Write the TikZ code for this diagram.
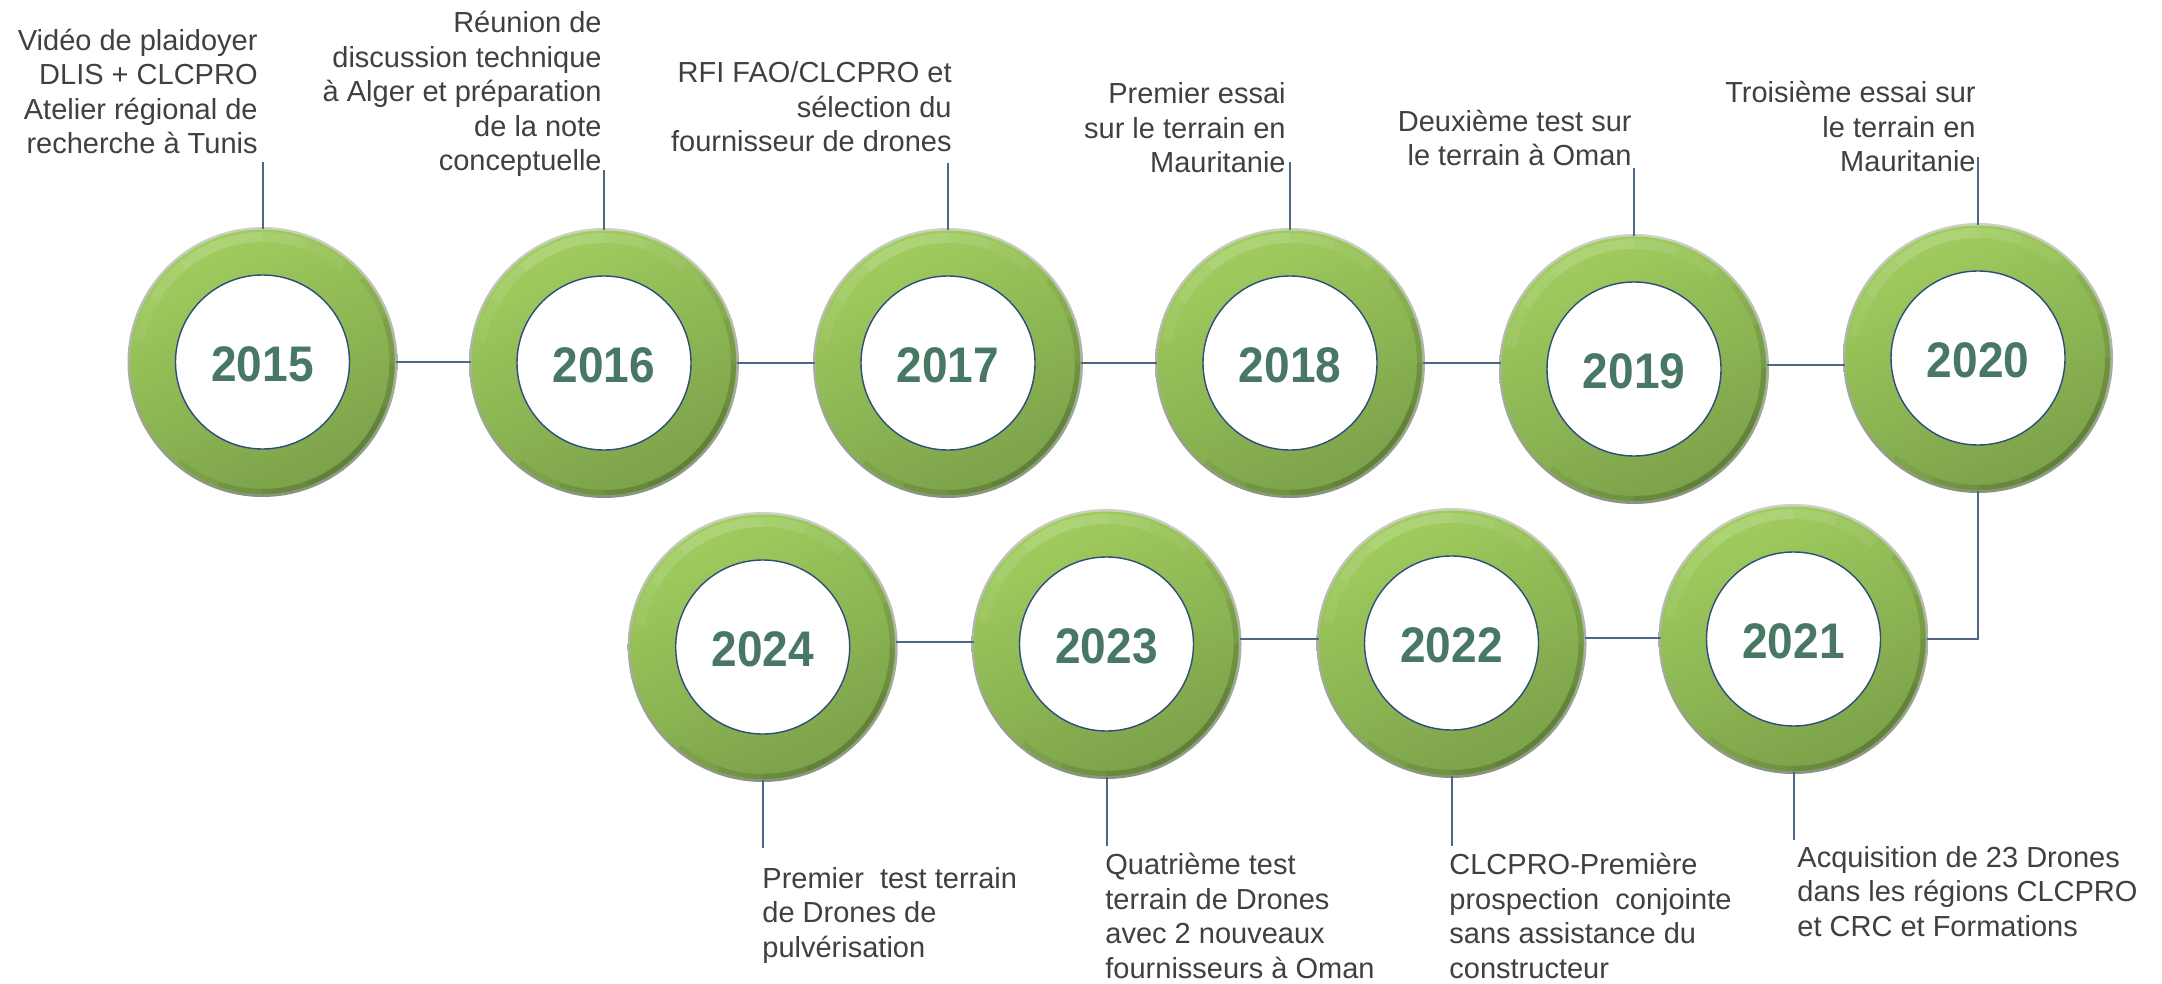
\documentclass[tikz,border=0pt]{standalone}
\usepackage{fontspec}
\setmainfont{Liberation Sans}
\usetikzlibrary{calc}

\definecolor{ringlight}{HTML}{A0CD5E}
\definecolor{ringdark}{HTML}{7BA14A}
\definecolor{rimlight}{HTML}{CBD1C4}
\definecolor{rimdark}{HTML}{8A9383}
\definecolor{yeargreen}{HTML}{487764}
\definecolor{wire}{HTML}{4D6886}
\definecolor{innerline}{HTML}{2F4C7A}
\definecolor{bodytext}{HTML}{404040}

\tikzset{
  conn/.style={draw=wire, line width=1pt},
  ringnode/.style={circle, minimum size=133pt, inner sep=0pt, outer sep=0pt},
  innerdisc/.style={circle, minimum size=87pt, inner sep=0pt, fill=white, draw=innerline, line width=0.7pt},
  yeartext/.style={font=\fontsize{25pt}{30pt}\selectfont\bfseries, text=yeargreen, inner sep=0pt},
  % captions are placed by the baseline of their last line
  toptext/.style={font=\fontsize{14.5pt}{17.25pt}\selectfont, text=bodytext, inner sep=0pt, align=right, anchor=base east},
  bottext/.style={font=\fontsize{14.5pt}{17.25pt}\selectfont, text=bodytext, inner sep=0pt, align=left, anchor=base west},
}

% one green ring with its year; #1 name, #2 x, #3 y, #4 year
\newcommand\yearring[4]{%
  \coordinate (c#1) at (#2,#3);
  \shade[top color=rimlight, bottom color=rimdark] (c#1) circle[radius=135];
  \shade[top color=ringlight, bottom color=ringdark, shading angle=25] (c#1) circle[radius=132.5];
  \foreach \s in {25,45,65,85}
    \draw[black, opacity=0.055, line width=2.5pt]
      ($(c#1)+(45-\s:129.5)$) arc[start angle=45-\s, end angle=45+\s, radius=129.5];
  \foreach \s in {20,40,60}
    \draw[white, opacity=0.06, line width=5pt]
      ($(c#1)+(-110-\s:125)$) arc[start angle=-110-\s, end angle=-110+\s, radius=125];
  \node[ringnode] (y#1) at (c#1) {};
  \node[innerdisc] (d#1) at (c#1) {};
  \node[yeartext] (n#1) at ($(c#1)+(0,2.5)$) {\scalebox{0.92}[1]{#4}};
}

\begin{document}
\begin{tikzpicture}[x=0.5pt, y=-0.5pt]
  \fill[white] (0,0) rectangle (2162,984);
  \useasboundingbox (0,0) rectangle (2162,984);

  % rings, upper row left to right, lower row right to left
  \yearring{2015}{262.5}{362}{2015}
  \yearring{2016}{604}{363}{2016}
  \yearring{2017}{948}{363}{2017}
  \yearring{2018}{1290}{363}{2018}
  \yearring{2019}{1634}{369}{2019}
  \yearring{2020}{1978}{358}{2020}
  \yearring{2021}{1793.5}{639}{2021}
  \yearring{2022}{1451.5}{643}{2022}
  \yearring{2023}{1106.5}{644}{2023}
  \yearring{2024}{762.7}{647}{2024}

  % timeline links
  \draw[conn] (y2015.east) -- (y2015.east -| y2016.west);
  \draw[conn] (y2016.east) -- (y2016.east -| y2017.west);
  \draw[conn] (y2017.east) -- (y2017.east -| y2018.west);
  \draw[conn] (y2018.east) -- (y2018.east -| y2019.west);
  \draw[conn] ([yshift=2pt]y2019.east) -- ([yshift=2pt]y2019.east -| y2020.west);
  \draw[conn] (y2020.south) |- (y2021.east);
  \draw[conn] ([yshift=2.5pt]y2022.east) -- ([yshift=2.5pt]y2022.east -| y2021.west);
  \draw[conn] ([yshift=2.5pt]y2023.east) -- ([yshift=2.5pt]y2023.east -| y2022.west);
  \draw[conn] ([yshift=2.3pt]y2024.east) -- ([yshift=2.3pt]y2024.east -| y2023.west);

  % captions
  \node[toptext] (t2015) at (258,154) {Vidéo de plaidoyer\\DLIS + CLCPRO\\Atelier régional de\\recherche à Tunis};
  \node[toptext] (t2016) at (602,171) {Réunion de\\discussion technique\\à Alger et préparation\\de la note\\conceptuelle};
  \node[toptext] (t2017) at (952,152) {RFI FAO/CLCPRO et\\sélection du\\fournisseur de drones};
  \node[toptext] (t2018) at (1286,173) {Premier essai\\sur le terrain en\\Mauritanie};
  \node[toptext] (t2019) at (1632,166) {Deuxième test sur\\le terrain à Oman};
  \node[toptext] (t2020) at (1976,172) {Troisième essai sur\\le terrain en\\Mauritanie};

  \node[bottext] (t2024) at (762,957) {Premier\ \ test terrain\\de Drones de\\pulvérisation};
  \node[bottext] (t2023) at (1105,978) {Quatrième test\\terrain de Drones\\avec 2 nouveaux\\fournisseurs à Oman};
  \node[bottext] (t2022) at (1449,978) {CLCPRO-Première\\prospection\ \ conjointe\\sans assistance du\\constructeur};
  \node[bottext] (t2021) at (1797,936) {Acquisition de 23 Drones\\dans les régions CLCPRO\\et CRC et Formations};

  % caption leaders
  \coordinate (e2015) at (262.5,162);
  \coordinate (e2016) at (604,170);
  \coordinate (e2017) at (948,163);
  \coordinate (e2018) at (1290,162);
  \coordinate (e2019) at (1634,168);
  \coordinate (e2020) at (1978,157);
  \coordinate (e2021) at (1793.5,840);
  \coordinate (e2022) at (1451.5,846);
  \coordinate (e2023) at (1106.5,846);
  \coordinate (e2024) at (762.7,848);
  \foreach \k in {2015,2016,2017,2018,2019,2020}
    \draw[conn] (y\k.north) -- (e\k);
  \foreach \k in {2021,2022,2023,2024}
    \draw[conn] (y\k.south) -- (e\k);
\end{tikzpicture}
\end{document}
